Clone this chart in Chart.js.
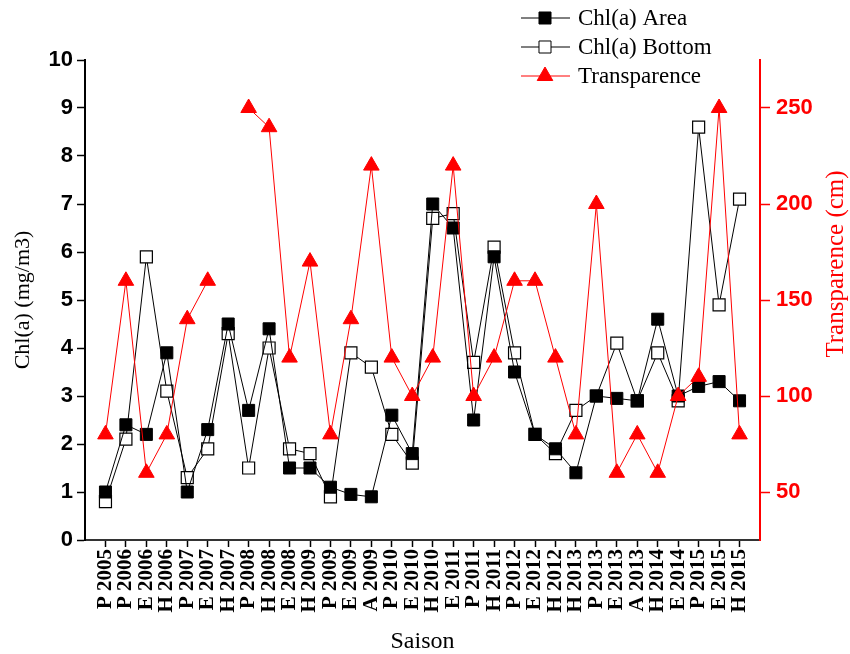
<!DOCTYPE html>
<html>
<head>
<meta charset="utf-8">
<script src="https://cdn.jsdelivr.net/npm/chart.js"></script>
<style>
  html, body { margin: 0; padding: 0; background: #fff; }
  #wrap { width: 850px; height: 654px; }
</style>
</head>
<body>
<div id="wrap"><canvas id="chart" width="850" height="654"></canvas></div>
<script>
const categories = ['P 2005', 'P 2006', 'E 2006', 'H 2006', 'P 2007', 'E 2007', 'H 2007', 'P 2008',
  'H 2008', 'E 2008', 'H 2009', 'P 2009', 'E 2009', 'A 2009', 'P 2010', 'E 2010', 'H 2010', 'E 2011',
  'P 2011', 'H 2011', 'P 2012', 'E 2012', 'H 2012', 'H 2013', 'P 2013', 'E 2013', 'A 2013', 'H 2014',
  'E 2014', 'P 2015', 'E 2015', 'H 2015']
const chlArea = [1.0, 2.4, 2.2, 3.9, 1.0, 2.3, 4.5, 2.7, 4.4, 1.5, 1.5, 1.1, 0.95, 0.9, 2.6, 1.8, 7.0, 6.5,
  2.5, 5.9, 3.5, 2.2, 1.9, 1.4, 3.0, 2.95, 2.9, 4.6, 3.0, 3.2, 3.3, 2.9]
const chlBottom = [0.8, 2.1, 5.9, 3.1, 1.3, 1.9, 4.3, 1.5, 4.0, 1.9, 1.8, 0.9, 3.9, 3.6, 2.2, 1.6, 6.7, 6.8,
  3.7, 6.1, 3.9, 2.2, 1.8, 2.7, 3.0, 4.1, 2.9, 3.9, 2.9, 8.6, 4.9, 7.1]
const transparence = [80, 160, 60, 80, 140, 160, null, 250, 240, 120, 170, 80, 140, 220, 120, 100, 120, 220,
  100, 120, 160, 160, 120, 80, 200, 60, 80, 60, 100, 110, 250, 80]
const chlTicks = [0, 1, 2, 3, 4, 5, 6, 7, 8, 9, 10]
const transTicks = [50, 100, 150, 200, 250]
const legendOrder = ['Chl(a) Area', 'Chl(a) Bottom', 'Transparence']

const toPoints = arr => arr.map((v, i) => ({ x: i, y: v }))

// legend drawn by hand: line - marker - label, like the original
const lineLegend = {
  id: 'lineLegend',
  afterDraw(chart) {
    const ctx = chart.ctx
    const rows = [18, 47, 76]
    legendOrder.forEach((name, i) => {
      const ds = chart.data.datasets.find(d => d.label == name)
      const y = rows[i]
      ctx.save()
      ctx.strokeStyle = ds.borderColor
      ctx.lineWidth = 1
      ctx.beginPath()
      ctx.moveTo(521, y)
      ctx.lineTo(570, y)
      ctx.stroke()
      ctx.fillStyle = ds.pointBackgroundColor
      ctx.strokeStyle = ds.pointBorderColor
      ctx.lineWidth = 1
      Chart.helpers.drawPoint(ctx, { pointStyle: ds.pointStyle, radius: ds.pointRadius, rotation: 0, borderWidth: 1 }, 545, y)
      ctx.fillStyle = '#000'
      ctx.font = '23px "Liberation Serif"'
      ctx.textBaseline = 'middle'
      ctx.fillText(ds.label, 578, y + 1)
      ctx.restore()
    })
  }
}

// right axis title reads bottom to top
const rightTitle = {
  id: 'rightTitle',
  afterDraw(chart) {
    const ctx = chart.ctx
    ctx.save()
    ctx.translate(836, 264)
    ctx.rotate(-Math.PI / 2)
    ctx.fillStyle = '#ff0000'
    ctx.font = '25px "Liberation Serif"'
    ctx.textAlign = 'center'
    ctx.textBaseline = 'middle'
    ctx.fillText('Transparence (cm)', 0, 0)
    ctx.restore()
  }
}

const config = {
  type: 'line',
  data: {
    datasets: [
      {
        label: 'Transparence',
        data: toPoints(transparence),
        yAxisID: 'y2',
        borderColor: '#ff0000',
        borderWidth: 1,
        pointStyle: 'triangle',
        pointRadius: 9,
        pointBackgroundColor: '#ff0000',
        pointBorderColor: '#ff0000',
        pointBorderWidth: 1,
        tension: 0,
        order: 0,
      },
      {
        label: 'Chl(a) Area',
        data: toPoints(chlArea),
        yAxisID: 'y',
        borderColor: '#000',
        borderWidth: 1,
        pointStyle: 'rect',
        pointRadius: 8.5,
        pointBackgroundColor: '#000',
        pointBorderColor: '#000',
        pointBorderWidth: 1,
        tension: 0,
        order: 1,
      },
      {
        label: 'Chl(a) Bottom',
        data: toPoints(chlBottom),
        yAxisID: 'y',
        borderColor: '#000',
        borderWidth: 1,
        pointStyle: 'rect',
        pointRadius: 8.5,
        pointBackgroundColor: '#fff',
        pointBorderColor: '#000',
        pointBorderWidth: 1.2,
        tension: 0,
        order: 2,
      },
    ],
  },
  options: {
    responsive: false,
    animation: false,
    layout: { padding: { top: 60, left: 0, right: 0, bottom: 0 } },
    plugins: {
      legend: { display: false },
      tooltip: { enabled: false },
    },
    scales: {
      x: {
        type: 'linear',
        min: -1,
        max: 32,
        afterBuildTicks: scale => { scale.ticks = categories.map((c, i) => ({ value: i })) },
        afterFit: scale => { scale.height = 114 },
        grid: { drawOnChartArea: false, drawTicks: true, tickLength: 7, tickColor: '#000', tickWidth: 1.5 },
        border: { display: true, color: '#333', width: 2 },
        ticks: {
          autoSkip: false,
          minRotation: 90,
          maxRotation: 90,
          padding: 2,
          color: '#000',
          font: { family: 'Liberation Serif', size: 21, weight: 'bold' },
          callback: v => categories[v] ?? '',
        },
        title: {
          display: true,
          text: 'Saison',
          color: '#000',
          font: { family: 'Liberation Serif', size: 24, lineHeight: 1 },
          padding: { top: 0, bottom: 0 },
        },
      },
      y: {
        position: 'left',
        min: 0,
        max: 10,
        afterBuildTicks: scale => { scale.ticks = chlTicks.map(v => ({ value: v })) },
        afterFit: scale => { scale.width = 85 },
        grid: { drawOnChartArea: false, tickLength: 8, tickColor: '#000', tickWidth: 1.5 },
        border: { display: true, color: '#000', width: 2 },
        ticks: {
          padding: 4,
          color: '#000',
          font: { family: 'Liberation Sans', size: 22, weight: 'bold' },
        },
        title: {
          display: true,
          text: 'Chl(a) (mg/m3)',
          color: '#000',
          font: { family: 'Liberation Serif', size: 22, lineHeight: 1.2 },
          padding: { top: 10, bottom: 0 },
        },
      },
      y2: {
        position: 'right',
        min: 25,
        max: 275,
        afterBuildTicks: scale => { scale.ticks = transTicks.map(v => ({ value: v })) },
        afterFit: scale => { scale.width = 90 },
        grid: { drawOnChartArea: false, tickLength: 10, tickColor: '#ff0000', tickWidth: 1.5 },
        border: { display: true, color: '#ff0000', width: 2 },
        ticks: {
          padding: 6,
          color: '#ff0000',
          font: { family: 'Liberation Sans', size: 22, weight: 'bold' },
        },
        title: { display: false },
      },
    },
  },
  plugins: [lineLegend, rightTitle],
}

const chartCtx = document.getElementById('chart')
window.myChart = new Chart(chartCtx, config)
</script>
</body>
</html>
